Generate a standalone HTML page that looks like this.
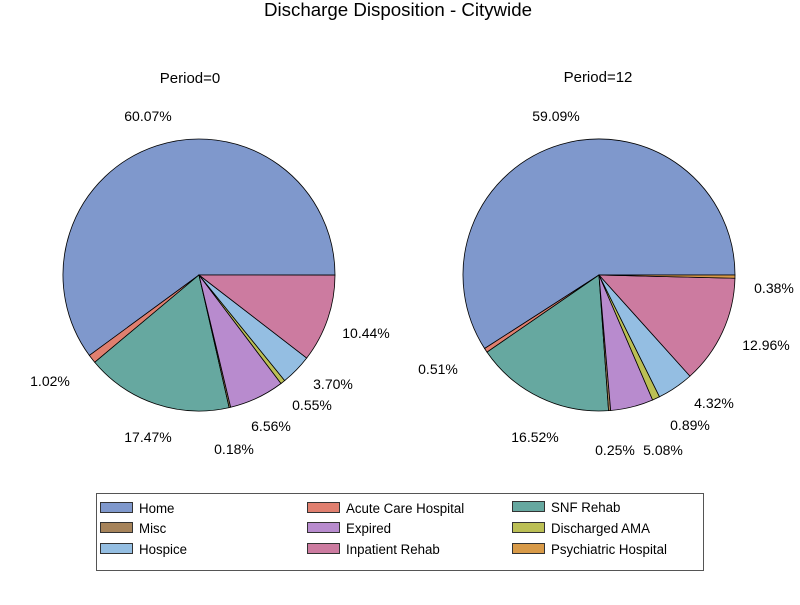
<!DOCTYPE html>
<html><head><meta charset="utf-8"><style>
body{margin:0;background:#fff;}
svg text{font-family:"Liberation Sans Narrow","Liberation Sans",sans-serif;fill:#000;}
</style></head><body>
<svg id="s" width="800" height="600" xmlns="http://www.w3.org/2000/svg">
<rect width="800" height="600" fill="#fff"/>
<text x="264" y="16" font-size="18" textLength="268" lengthAdjust="spacingAndGlyphs">Discharge Disposition - Citywide</text>
<text x="190" y="83" font-size="15" text-anchor="middle">Period=0</text>
<text x="598" y="82" font-size="15" text-anchor="middle">Period=12</text>
<g id="p1"></g><g id="p2"></g>
<g font-size="14" text-anchor="middle">
<text x="148" y="121">60.07%</text>
<text x="50" y="386">1.02%</text>
<text x="148" y="442">17.47%</text>
<text x="234" y="454">0.18%</text>
<text x="271" y="431">6.56%</text>
<text x="312" y="410">0.55%</text>
<text x="333" y="389">3.70%</text>
<text x="366" y="338">10.44%</text>
<text x="556" y="121">59.09%</text>
<text x="438" y="374">0.51%</text>
<text x="535" y="442">16.52%</text>
<text x="615" y="455">0.25%</text>
<text x="663" y="455">5.08%</text>
<text x="690" y="430">0.89%</text>
<text x="714" y="408">4.32%</text>
<text x="766" y="350">12.96%</text>
<text x="774" y="293">0.38%</text>
</g>
<rect x="96.5" y="493.5" width="607" height="77" fill="none" stroke="#555" stroke-width="1"/>
<g id="lg" font-size="14"></g>
</svg>
<script>
var C={Home:"#7F98CC",Acute:"#E07F6F",SNF:"#66A8A0",Misc:"#A6835A",Expired:"#B88BCE",AMA:"#BBBF55",Hospice:"#94BEE2",Inp:"#CC7BA0",Psych:"#D89A48"};
function pie(id,cx,cy,r,data){
 var g=document.getElementById(id),a=0,h="";
 data.forEach(function(d){
  var a2=a+d[1]/100*2*Math.PI;
  var x1=cx+r*Math.cos(a),y1=cy-r*Math.sin(a),x2=cx+r*Math.cos(a2),y2=cy-r*Math.sin(a2);
  var large=(a2-a)>Math.PI?1:0;
  h+='<path d="M'+cx+','+cy+' L'+x1.toFixed(2)+','+y1.toFixed(2)+' A'+r+','+r+' 0 '+large+' 0 '+x2.toFixed(2)+','+y2.toFixed(2)+' Z" fill="'+C[d[0]]+'" stroke="#000" stroke-width="0.8"/>';
  a=a2;
 });
 g.innerHTML=h;
}
pie("p1",199,275,136,[["Home",60.07],["Acute",1.02],["SNF",17.47],["Misc",0.18],["Expired",6.56],["AMA",0.55],["Hospice",3.70],["Inp",10.44]]);
pie("p2",599,275,136,[["Home",59.09],["Acute",0.51],["SNF",16.52],["Misc",0.25],["Expired",5.08],["AMA",0.89],["Hospice",4.32],["Inp",12.96],["Psych",0.38]]);
var L=[["Home","Home",100,508],["Acute","Acute Care Hospital",307,508],["SNF","SNF Rehab",512,507],
["Misc","Misc",100,528],["Expired","Expired",307,528],["AMA","Discharged AMA",512,528],
["Hospice","Hospice",100,549],["Inp","Inpatient Rehab",307,549],["Psych","Psychiatric Hospital",512,549]];
var h="";
L.forEach(function(l){
 h+='<rect x="'+(l[2]+0.5)+'" y="'+(l[3]-5.5)+'" width="32" height="10" fill="'+C[l[0]]+'" stroke="#333" stroke-width="1"/>';
 h+='<text transform="translate('+(l[2]+39)+','+(l[3]+5)+') scale(0.95,1)">'+l[1]+'</text>';
});
document.getElementById("lg").innerHTML=h;
</script>
</body></html>
